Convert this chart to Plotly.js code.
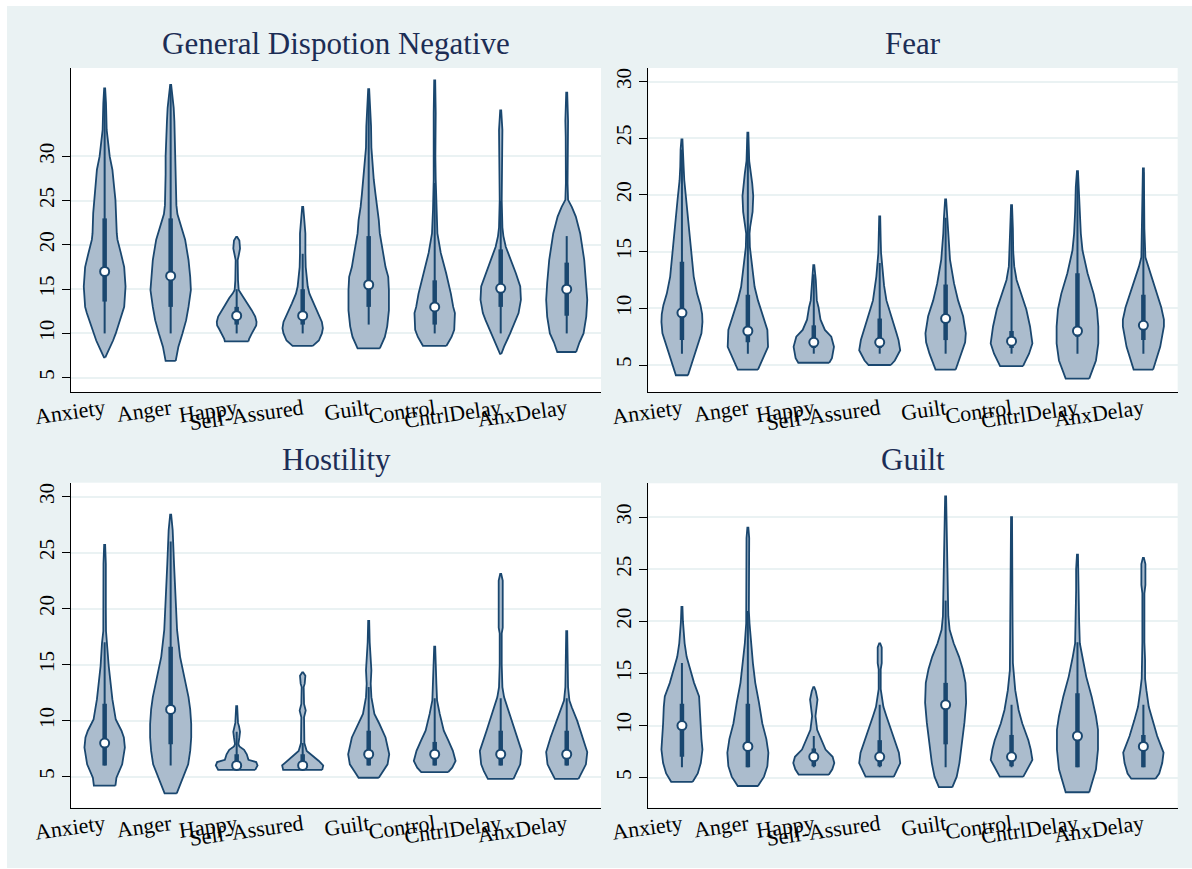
<!DOCTYPE html>
<html><head><meta charset="utf-8">
<script src="https://cdn.plot.ly/plotly-3.0.1.min.js"></script>
<style>html,body{margin:0;padding:0;background:#fff;}#chart{position:absolute;left:7px;top:6px;width:1185px;height:862px;}</style>
</head><body><div id="chart"></div>
<script>
const categories = ['Anxiety','Anger','Happy','Self-Assured','Guilt','Control','CntrlDelay','AnxDelay'];
const panelTitles = ['General Dispotion Negative','Fear','Hostility','Guilt'];
const yTicks = [5,10,15,20,25,30];

// ---- General Dispotion Negative: density profiles (value levels, relative density) ----
const gdnLevels = [
 [7.3,8.1,9.2,10.0,10.8,12.3,13.0,15.3,17.5,19.1,20.6,21.3,23.6,25.1,26.6,28.5,30,31.9,33,36,37.7],
 [6.9,8.5,10,11.5,13,14.9,16.4,18.3,20.6,22.1,23.5,24.5,26.5,28,30,32,34,35.5,37,38.1],
 [9.1,9.4,10.0,10.5,10.9,11.3,11.9,12.6,13.3,14.0,14.5,14.9,16,18.3,18.8,19.6,20.5,20.9],
 [8.6,9.2,10.0,10.6,11.3,12.3,13.4,14.5,15.3,17.5,19.1,21.3,23.2,24.3],
 [8.3,9.6,10.8,12.6,14.9,16.4,17.5,19.1,20,21.3,22.8,24.3,25.8,27.4,28.9,31,33.4,35.7,37.6],
 [8.6,9.6,10.4,12.3,13.0,14.5,16.8,19.1,21.3,24,27.4,30,34.9,38.6],
 [7.7,8.5,10,11.5,12.3,13.8,15.3,16.8,17.5,18.3,19.8,21,22,25.1,30.4,33,35.2],
 [7.9,9,10,11.9,13.8,15.7,18.3,21.3,23.2,24.3,25.1,27,32.3,34,37.2]
];
const gdnDensity = [
 [2,12,25,33,40,53,58,62,58,48,38,36,34,32,28,23,15,10,6,4,1.5],
 [15,23,35,46,53,60,58,53,43,30,20,17,16,15,15,14,11,9,5,1.5],
 [35,37,45,52,58,59,55,45,33,22,12,6,4,3,6,10,8,1.5],
 [30,48,57,60,57,45,32,20,15,9,8,8,4,1.5],
 [33,48,55,60,60,58,50,43,38,33,30,24,20,15,12,8,7,5,1.5],
 [35,50,58,60,55,48,34,18,8,5,3,2,3,1.5],
 [2,10,28,45,53,60,58,45,38,30,15,8,5,3,4,5,1.5],
 [28,38,50,58,61,58,52,40,27,15,4,2.5,3,4,1.5]
];
const gdnMedian = [17.0,16.5,12.0,12.0,15.5,13.0,15.1,15.0];
const gdnQ1 = [13.6,13.0,11.0,11.0,13.0,11.0,13.0,12.0];
const gdnQ3 = [23.0,23.0,13.0,15.0,21.0,16.0,19.5,18.0];
const gdnLow = [10,10,10,10,11,10,10,10];
const gdnHigh = [37,38,15,19,37,27,25,21];

// ---- Fear ----
const fearLevels = [
 [4.1,5.4,6.6,7.8,8.8,9.5,10.3,11.3,12.8,14.3,16.6,19.6,21.3,22.5,24,24.9],
 [4.6,5.4,6.6,8.1,9.3,10.7,11.9,13.7,15.4,16.6,17.2,18.5,19.9,21,21.9,23,24,25.5],
 [5.2,5.6,6.6,7.5,8.1,9.0,10.1,10.7,12.5,13.1,13.8],
 [5.0,5.4,6.3,7.2,7.8,9.0,10.0,10.7,12.0,12.8,14.9,16,18.1],
 [4.6,5.1,6.0,7.0,7.8,9.3,10.7,12.2,14.3,16.6,18,19.6],
 [4.9,5.4,6.0,6.9,8.4,9.9,11.3,12.5,13.7,15,17,19.1],
 [3.8,4.6,5.4,6.9,8.4,9.9,11.3,13.1,15.1,16.6,18.5,20.7,22.1],
 [4.6,5.4,6.6,8.4,9.0,10.1,11.3,12.5,13.7,14.5,17,20,22.35]
];
const fearDensity = [
 [18,32,45,58,61,60,55,45,35,30,23,13,7,5,4,1.5],
 [30,42,60,58,45,30,20,12,6,5,7,14,16,13,9,4,3,1.5],
 [46,54,60,52,33,20,14,9,6,3,1.5],
 [33,45,61,56,50,38,27,20,13,10,4,3,1.5],
 [30,36,48,58,60,52,37,25,13,7,5,1.5],
 [34,42,52,62,55,44,28,15,8,5,4,1.5],
 [35,45,55,62,62,58,48,30,15,10,7,5,1.5],
 [29,38,50,61,61,53,40,27,13,6,3,3,1.5]
];
const fearMedian = [9.6,8.0,7.0,7.0,9.1,7.1,8.0,8.5];
const fearQ1 = [7.2,7.0,6.5,6.5,7.2,6.5,7.5,7.2];
const fearQ3 = [14.1,11.2,8.5,9.1,12.1,8.0,13.1,11.2];
const fearLow = [6,6,6,6,6,6,6,6];
const fearHigh = [24,25,13,14,18,18,22,22];

// ---- Hostility ----
const hostLevels = [
 [4.2,4.9,6.1,7.6,8.5,9.1,10.1,11.9,14.9,16.9,18,20,22,24,25.7],
 [3.5,4.9,6.1,7.3,8.5,9.7,11,12.1,13.9,15.7,18.1,21,24,27,28.4],
 [5.6,6.0,6.3,6.5,7.0,7.4,7.7,7.9,8.5,9.0,9.5,9.8,11.3],
 [5.6,6.0,6.4,6.9,7.3,8.0,9.5,10.3,10.9,11.5,13.0,13.3,14,14.3],
 [4.9,5.5,6.1,7.0,8.5,9.7,10.6,12.1,13.3,14.5,15.7,17,18.9],
 [5.4,5.8,6.4,7.3,8.2,9.1,10.6,11.8,13.3,15,16.6],
 [4.8,5.5,6.1,7.3,9.1,10.6,12.1,13,15,17.8,18.3,22.5,23.1],
 [4.8,5.5,6.1,7.2,8.5,10.0,11.2,11.8,13,15,18.0]
];
const hostDensity = [
 [32,35,52,60,57,50,33,23,12,8,4,3.5,4,3.5,1.5],
 [18,36,52,58,61,61,58,53,40,28,19,14,10,6,1.5],
 [55,62,58,35,30,22,8,5,8,10,7,4,1.5],
 [58,61,48,28,12,5,4,4,9,4,3,6,8,1.5],
 [30,43,56,61,50,32,17,8,6,8,5,3,1.5],
 [40,52,62,54,41,27,15,7,5,4,1.5],
 [38,50,58,62,42,25,10,5,3,3,6,6,1.5],
 [35,47,57,61,48,31,15,8,4,3,1.5]
];
const hostMedian = [8.0,11.0,6.0,6.0,7.0,7.0,7.0,7.0];
const hostQ1 = [6.0,7.9,6.0,6.0,6.0,6.0,6.0,6.0];
const hostQ3 = [11.5,16.6,7.0,7.0,9.1,8.1,9.1,9.1];
const hostLow = [6,6,6,6,6,6,6,6];
const hostHigh = [17,26,9,8,13,12,12,12];

// ---- Guilt ----
const guiltLevels = [
 [4.6,5.4,6.4,7.7,8.7,10.2,11.8,12.8,14.1,15.4,16.6,17.9,19,20,21.4],
 [4.2,5.1,6.1,7.4,8.7,10.2,12.2,14.1,16.0,17.9,19.8,21,23.7,24.5,28,29],
 [5.3,5.8,6.4,7.0,7.7,8.6,9.6,10.9,11.5,12.5,13.3,13.7],
 [5.1,5.8,6.4,7.4,8.3,9.6,10.9,11.8,12.8,13.5,15.4,16,17.5,17.9],
 [4.1,5.1,6.4,8.3,10.3,12.2,14.1,15.4,16.6,17.9,19.2,20.5,22.1,25,27.8,30,32],
 [5.1,6.0,6.7,7.7,8.6,10.2,11.5,13.4,15.3,16,20,25,30],
 [3.6,4.5,5.8,7.7,9.6,10.9,12.8,14.7,16.6,17.9,20,23,25,26.4],
 [4.9,5.4,6.4,7.4,9.0,10.5,11.8,13.4,14.5,16.3,18,22.7,23.5,25.5,26.1]
];
const guiltDensity = [
 [32,47,56,61,58,56,54,51,36,24,14,8,5,3,1.5],
 [30,48,58,61,55,43,33,22,15,9,5,3,3,4,4,1.5],
 [45,55,61,56,35,22,10,5,8,11,6,1.5],
 [42,52,61,57,47,33,20,11,6,3,3,6,6,1.5],
 [20,33,41,49,56,61,59,51,40,24,12,8,7,5,4,3,1.5],
 [35,50,62,57,50,32,21,11,5,4,3,3,1.5],
 [35,43,55,61,61,55,42,26,14,7,5,4,4,1.5],
 [36,47,56,60,41,27,16,9,5,5,3,3,6,6,1.5]
];
const guiltMedian = [10.0,8.0,7.0,7.0,12.0,7.0,9.0,8.0];
const guiltQ1 = [7.0,6.0,6.1,6.1,8.2,6.1,6.0,6.0];
const guiltQ3 = [12.1,12.1,7.8,8.6,14.1,9.1,13.1,9.1];
const guiltLow = [6,6,6,6,6,6,6,6];
const guiltHigh = [16,21,9,12,22,12,18,12];

// ---- styling / layout ----
const NAVY = '#1a476f';
const FILL = '#abbccd';
const BG = '#eaf2f3';
const DENS_SCALE = 1/196;   // relative density -> half width in category units
const FONT = 'Liberation Serif, Times New Roman, serif';

const panels = [
 {lev:gdnLevels, den:gdnDensity, med:gdnMedian, q1:gdnQ1, q3:gdnQ3, lo:gdnLow, hi:gdnHigh,
  xd:[0.0540,0.5013], yd:[0.5522,0.9281], yr:[3.38,40.0], ty:0.957},
 {lev:fearLevels, den:fearDensity, med:fearMedian, q1:fearQ1, q3:fearQ3, lo:fearLow, hi:fearHigh,
  xd:[0.5412,0.9879], yd:[0.5522,0.9281], yr:[2.62,31.2], ty:0.957},
 {lev:hostLevels, den:hostDensity, med:hostMedian, q1:hostQ1, q3:hostQ3, lo:hostLow, hi:hostHigh,
  xd:[0.0540,0.5013], yd:[0.0700,0.4470], yr:[2.23,31.25], ty:0.474},
 {lev:guiltLevels, den:guiltDensity, med:guiltMedian, q1:guiltQ1, q3:guiltQ3, lo:guiltLow, hi:guiltHigh,
  xd:[0.5412,0.9879], yd:[0.0700,0.4463], yr:[2.12,33.26], ty:0.474}
];

const catPos = categories.map((c,i)=>i+1);
const traces = [];
const layout = {
  width:1185, height:862, margin:{l:0,r:0,t:0,b:0},
  paper_bgcolor:BG, plot_bgcolor:'#ffffff', showlegend:false,
  font:{family:FONT, color:'#000'}, annotations:[]
};

panels.forEach((p,k)=>{
  const n = k+1;
  const xa = 'x'+(n===1?'':n), ya = 'y'+(n===1?'':n);
  p.lev.forEach((lev,i)=>{
    const c = catPos[i], d = p.den[i];
    const xs = [], ys = [];
    for(let j=0;j<lev.length;j++){ xs.push(c + d[j]*DENS_SCALE); ys.push(lev[j]); }
    for(let j=lev.length-1;j>=0;j--){ xs.push(c - d[j]*DENS_SCALE); ys.push(lev[j]); }
    xs.push(xs[0]); ys.push(ys[0]);
    traces.push({type:'scatter', mode:'lines', x:xs, y:ys, xaxis:xa, yaxis:ya,
      fill:'toself', fillcolor:FILL, line:{color:NAVY, width:1.8}, hoverinfo:'skip'});
  });
  const wx=[], wy=[], bx=[], by=[];
  catPos.forEach((c,i)=>{
    wx.push(c,c,null); wy.push(p.lo[i],p.hi[i],null);
    bx.push(c,c,null); by.push(p.q1[i],p.q3[i],null);
  });
  traces.push({type:'scatter',mode:'lines',x:wx,y:wy,xaxis:xa,yaxis:ya,line:{color:NAVY,width:2},hoverinfo:'skip'});
  traces.push({type:'scatter',mode:'lines',x:bx,y:by,xaxis:xa,yaxis:ya,line:{color:NAVY,width:4.5},hoverinfo:'skip'});
  traces.push({type:'scatter',mode:'markers',x:catPos,y:p.med,xaxis:xa,yaxis:ya,
    marker:{color:'#ffffff',size:9,line:{color:NAVY,width:2}},hoverinfo:'skip'});

  layout['xaxis'+(n===1?'':n)] = {
    domain:p.xd, anchor:ya, range:[0.49,8.52], tickmode:'array', tickvals:catPos, ticktext:categories,
    tickangle:-8, ticks:'', ticklabelstandoff:-5, showline:true, linecolor:'#000', linewidth:1, showgrid:false, zeroline:false,
    tickfont:{family:FONT, size:22, color:'#000'}, fixedrange:true
  };
  layout['yaxis'+(n===1?'':n)] = {
    domain:p.yd, anchor:xa, range:p.yr, tickmode:'array', tickvals:yTicks, ticktext:yTicks.map(String),
    tickangle:-90, ticks:'outside', ticklen:8, tickcolor:'#000', tickwidth:1,
    showline:true, linecolor:'#000', linewidth:1, showgrid:true, gridcolor:BG, gridwidth:2, zeroline:false,
    tickfont:{family:FONT, size:21, color:'#000'}, fixedrange:true
  };
  layout.annotations.push({text:panelTitles[k], xref:'paper', yref:'paper',
    x:(p.xd[0]+p.xd[1])/2, y:p.ty, xanchor:'center', yanchor:'middle', showarrow:false,
    font:{family:FONT, size:31, color:'#1c2d55'}});
});

Plotly.newPlot('chart', traces, layout, {displayModeBar:false, staticPlot:true});
</script>
</body></html>
